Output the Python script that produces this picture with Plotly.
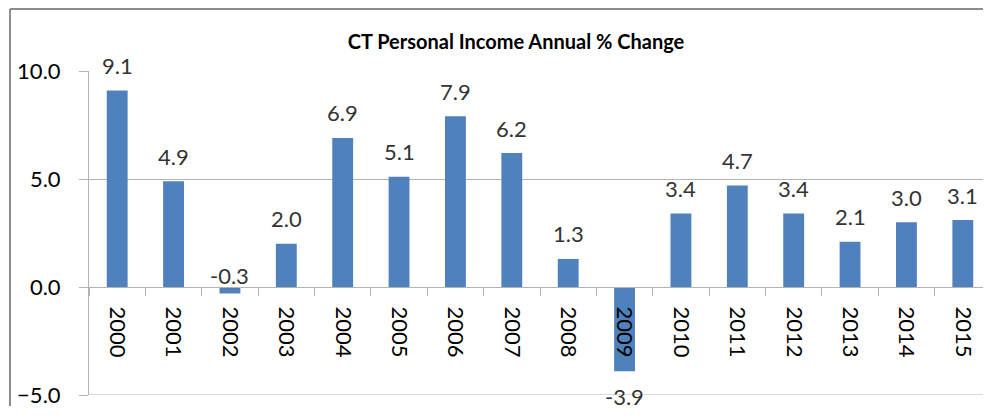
import plotly.graph_objects as go

years = [str(y) for y in range(2000, 2016)]
pct_change = [9.1, 4.9, -0.3, 2.0, 6.9, 5.1, 7.9, 6.2, 1.3, -3.9, 3.4, 4.7, 3.4, 2.1, 3.0, 3.1]
y_ticks = [-5, 0, 5, 10]

# page body has an 8px margin; keep the figure a bit smaller than the window so no scrollbar shows
OFF = 8
W, H = 975, 398
ML, MR, MT, MB = 89 - OFF, 0, 71 - OFF, 11
Y_MIN, Y_MAX = -5, 10
CAT_PX = 902 / 16  # width of one category in the reference

GRID = '#b3b3b3'
BORDER = '#8c8c8c'
BAR = '#4f81bd'
FONT = 'Lato'

fig = go.Figure()

fig.add_trace(go.Bar(
    x=years, y=pct_change,
    marker=dict(color=BAR, line_width=0),
    hoverinfo='x+y'
))

# data labels: above positive bars, below the big negative one
# (x given as category index so "2000" is not read as position 2000)
annotations = []
for i, v in enumerate(pct_change):
    if v >= 0:
        yy, shift = v, 25
    elif v > -1:
        yy, shift = 0, 12
    else:
        yy, shift = v, -25
    annotations.append(dict(
        x=i, y=yy, text=f"{v:.1f}", showarrow=False,
        yanchor='middle', yshift=shift,
        font=dict(family=FONT, size=22, color='#333333')
    ))

# outer chart border (top and left edges visible, rest cropped)
plot_w = W - ML - MR
plot_h = H - MT - MB
px_x = lambda px: (px - OFF - ML) / plot_w
px_y = lambda py: 1 - (py - OFF - MT) / plot_h

shapes = [
    dict(type='line', xref='paper', yref='paper', x0=px_x(10), x1=px_x(1100),
         y0=px_y(9), y1=px_y(9), line=dict(color=BORDER, width=2)),
    dict(type='line', xref='paper', yref='paper', x0=px_x(10), x1=px_x(10),
         y0=px_y(9), y1=px_y(600), line=dict(color=BORDER, width=2)),
    # bottom gridline (plotly drops the one sitting on the range edge)
    dict(type='line', xref='paper', yref='y', x0=0, x1=1, y0=Y_MIN, y1=Y_MIN,
         line=dict(color=GRID, width=1), layer='below'),
]

zero_pos = (0 - Y_MIN) / (Y_MAX - Y_MIN)

fig.update_layout(
    width=W, height=H,
    margin=dict(l=ML, r=MR, t=MT, b=MB, autoexpand=False),
    plot_bgcolor='white', paper_bgcolor='white',
    showlegend=False,
    bargap=0.63,
    title=dict(
        text='<b>CT Personal Income Annual % Change</b>',
        x=(516 - OFF) / W, xanchor='center', y=1 - (42 - OFF) / H, yanchor='middle',
        font=dict(family=FONT, size=20, color='black')
    ),
    xaxis=dict(
        type='category', anchor='free', position=zero_pos,
        range=[-0.5, -0.5 + plot_w / CAT_PX], automargin=False,
        showline=True, linecolor=GRID, linewidth=1,
        ticks='outside', tickson='boundaries', ticklen=8, tickcolor=GRID,
        tickangle=90, showgrid=False, zeroline=False,
        ticklabelstandoff=14,
        tickfont=dict(family=FONT, size=22, color='black')
    ),
    yaxis=dict(
        range=[Y_MIN, Y_MAX], tickvals=y_ticks, tickformat='.1f',
        automargin=False, ticklabeloverflow='allow',
        showgrid=True, gridcolor=GRID, gridwidth=1, zeroline=False,
        showline=True, linecolor=GRID, linewidth=1,
        ticks='outside', ticklen=9, tickcolor=GRID,
        ticklabelstandoff=14,
        tickfont=dict(family=FONT, size=22, color='black')
    ),
    annotations=annotations,
    shapes=shapes,
)

fig.write_html("out.html")
